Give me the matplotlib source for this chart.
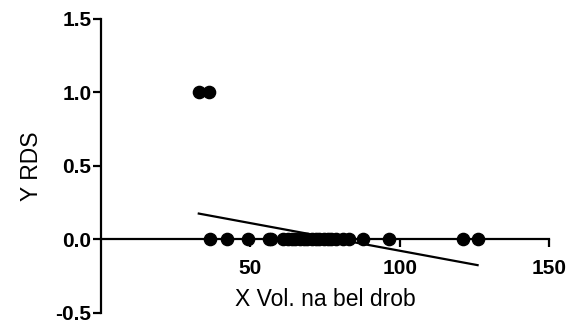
import numpy as np
import matplotlib
matplotlib.use("Agg")
import matplotlib.pyplot as plt

plt.rcParams['font.family'] = ['Liberation Sans', 'DejaVu Sans']

# data
x_vol = [32.7, 36.0,
         36.3, 42.0, 49.3, 56.3, 57.0,
         61.0, 62.5, 64.0, 65.0, 66.5, 68.0, 69.0, 70.5, 72.0, 73.0,
         74.5, 76.0, 77.0, 78.5, 81.0, 83.0, 87.7, 96.3, 121.0, 126.0]
y_rds = [1, 1,
         0, 0, 0, 0, 0,
         0, 0, 0, 0, 0, 0, 0, 0, 0, 0,
         0, 0, 0, 0, 0, 0, 0, 0, 0, 0]

# linear fit shown in the chart
fit_slope = -0.00376
fit_intercept = 0.299

x_ticks = [50, 100, 150]
y_ticks = [-0.5, 0.0, 0.5, 1.0, 1.5]

fig = plt.figure(figsize=(5.71, 3.26), dpi=100)
ax = fig.add_axes([0.177, 0.04, 0.785, 0.902])

xs = np.array([min(x_vol), max(x_vol)])
ax.plot(xs, fit_intercept + fit_slope * xs, color='black', lw=1.6, zorder=2)
ax.plot(x_vol, y_rds, 'o', color='black', ms=8.8, zorder=3, clip_on=False)

ax.set_xlim(0, 150)
ax.set_ylim(-0.5, 1.5)

ax.spines['top'].set_visible(False)
ax.spines['right'].set_visible(False)
ax.spines['bottom'].set_position(('data', 0))
for s in ('left', 'bottom'):
    ax.spines[s].set_linewidth(1.6)

ax.set_xticks(x_ticks)
ax.set_yticks(y_ticks)
ax.set_yticklabels(['-0.5', '0.0', '0.5', '1.0', '1.5'])
ax.tick_params(axis='both', width=1.6, length=6, labelsize=15)
ax.tick_params(axis='x', pad=8)
ax.tick_params(axis='y', pad=1)
for lab in ax.get_xticklabels() + ax.get_yticklabels():
    lab.set_fontweight('bold')

ax.set_xlabel('X Vol. na bel drob', fontsize=16.5)
ax.xaxis.set_label_coords(0.5, 0.085)
ax.set_ylabel('Y RDS', fontsize=16.5)
ax.yaxis.set_label_coords(-0.13, 0.5)

fig.savefig('out.png', dpi=100)
